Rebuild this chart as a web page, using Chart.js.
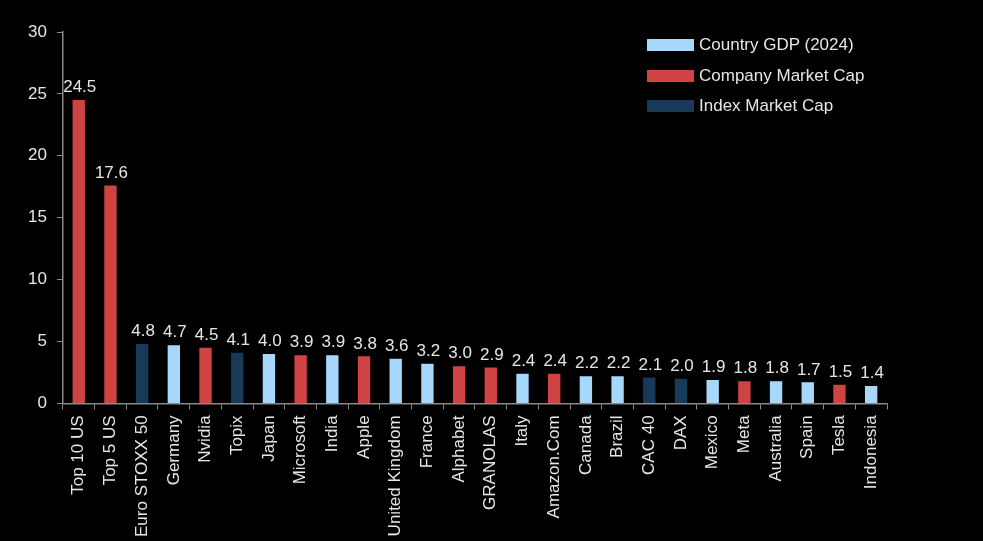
<!DOCTYPE html>
<html>
<head>
<meta charset="utf-8">
<script src="https://cdn.jsdelivr.net/npm/chart.js@4"></script>
<style>
  html, body { margin:0; padding:0; background:#000; overflow:hidden; }
  #wrap { position:relative; width:983px; height:541px; overflow:hidden; }
  #chart-box { position:absolute; left:0; top:0; width:983px; height:543px; }
  #legend { position:absolute; left:647px; top:30px; font-family:"Liberation Sans", Arial, sans-serif; font-size:17px; color:#e6e6e6; }
  #legend .row { display:flex; align-items:center; height:30.5px; }
  #legend .box { width:47px; height:12px; margin-right:5px; }
</style>
</head>
<body>
<div id="wrap">
  <div id="chart-box"><canvas id="chart"></canvas></div>
  <div id="legend"></div>
</div>
<script>
// data
const categories = ['Top 10 US','Top 5 US','Euro STOXX 50','Germany','Nvidia','Topix','Japan','Microsoft','India','Apple',
  'United Kingdom','France','Alphabet','GRANOLAS','Italy','Amazon.Com','Canada','Brazil','CAC 40','DAX',
  'Mexico','Meta','Australia','Spain','Tesla','Indonesia'];
const values = [24.5,17.6,4.8,4.7,4.5,4.1,4.0,3.9,3.9,3.8,3.6,3.2,3.0,2.9,2.4,2.4,2.2,2.2,2.1,2.0,1.9,1.8,1.8,1.7,1.5,1.4];
// G = country GDP, C = company market cap, I = index market cap
const types = ['C','C','I','G','C','I','G','C','G','C','G','G','C','C','G','C','G','G','I','I','G','C','G','G','C','G'];
const seriesNames = { G:'Country GDP (2024)', C:'Company Market Cap', I:'Index Market Cap' };
const seriesColors = { G:'#a6d8fc', C:'#d04343', I:'#173a59' };
const yTicks = [0,5,10,15,20,25,30];

const FONT = '"Liberation Sans", Arial, sans-serif';

const datasets = ['G','C','I'].map(t => ({
  label: seriesNames[t],
  data: values.map((v,i)=> types[i]===t ? v : null),
  backgroundColor: seriesColors[t],
  categoryPercentage: 1,
  barPercentage: 0.39
}));

// value labels above bars
const valueLabels = {
  id:'valueLabels',
  afterDatasetsDraw(chart){
    const ctx = chart.ctx;
    ctx.save();
    ctx.font = '17px ' + FONT;
    ctx.fillStyle = '#e6e6e6';
    ctx.textAlign = 'center';
    ctx.textBaseline = 'bottom';
    chart.data.datasets.forEach((ds, di)=>{
      chart.getDatasetMeta(di).data.forEach((bar, i)=>{
        if(ds.data[i]==null) return;
        ctx.fillText(ds.data[i].toFixed(1), bar.x + 1, bar.y - 4);
      });
    });
    ctx.restore();
  }
};

new Chart(document.getElementById('chart'), {
  type:'bar',
  data:{ labels: categories, datasets },
  options:{
    responsive:true,
    maintainAspectRatio:false,
    animation:false,
    layout:{ padding:{ top:32, right:96, left:18, bottom:0 } },
    plugins:{ legend:{display:false}, tooltip:{enabled:false} },
    scales:{
      x:{
        stacked:true,
        grid:{ drawOnChartArea:false, drawTicks:true, tickLength:6, color:'#8a8a8a', offset:true },
        border:{ color:'#8a8a8a', width:1.5 },
        ticks:{ color:'#e6e6e6', font:{ family:FONT, size:17 }, minRotation:90, maxRotation:90, autoSkip:false, padding:6 }
      },
      y:{
        stacked:true,
        min:0, max:30,
        afterBuildTicks(axis){ axis.ticks = yTicks.map(v=>({value:v})); },
        grid:{ drawOnChartArea:false, drawTicks:true, tickLength:6, color:'#8a8a8a' },
        border:{ color:'#8a8a8a', width:1.5 },
        ticks:{ color:'#e6e6e6', font:{ family:FONT, size:17 }, padding:10 }
      }
    }
  },
  plugins:[valueLabels]
});

// legend
const legend = document.getElementById('legend');
['G','C','I'].forEach(t=>{
  const row = document.createElement('div');
  row.className = 'row';
  row.innerHTML = '<span class="box" style="background:'+seriesColors[t]+'"></span><span>'+seriesNames[t]+'</span>';
  legend.appendChild(row);
});
</script>
</body>
</html>
